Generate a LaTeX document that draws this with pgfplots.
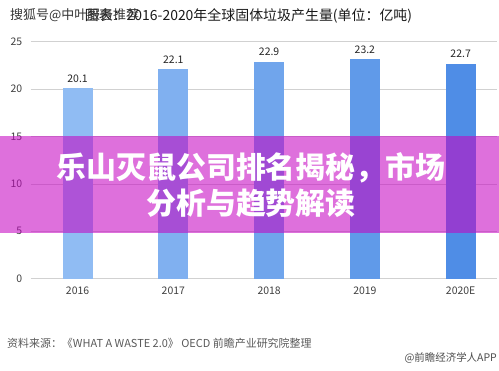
\documentclass[border=0pt]{standalone}
\usepackage{pgfplots}
\pgfplotsset{compat=1.18}
\usepackage{fontspec}
\setmainfont{Noto Sans CJK SC}
\definecolor{bA}{HTML}{90BCF3}
\definecolor{bB}{HTML}{80B0F0}
\definecolor{bC}{HTML}{70A5EC}
\definecolor{bD}{HTML}{609AE9}
\definecolor{bE}{HTML}{4F8DE6}
\definecolor{pinkband}{RGB}{197,4,194}
\begin{document}
\begin{tikzpicture}[x=1bp,y=1bp]
\useasboundingbox (0,0) rectangle (499,-370);
\begin{axis}[
  at={(32,-294)}, anchor=south west,
  scale only axis, width=466bp, height=237bp,
  xmin=-0.49, xmax=4.376, ymin=0, ymax=25,
  ytick={0,5,10,15,20,25},
  xtick={0,1,2,3,4},
  xticklabels={2016,2017,2018,2019,2020E},
  ymajorgrids, grid style={draw=black!18, line width=0.7pt},
  axis line style={draw=none}, tick style={draw=none},
  /pgf/number format/assume math mode=true,
  yticklabel style={font=\fontsize{10.5}{12}\selectfont, text=black!75, xshift=-5bp},
  xticklabel style={font=\fontsize{10.5}{12}\selectfont, text=black!75, yshift=-5bp},
  bar width=30bp,
  nodes near coords,
  every node near coord/.append style={font=\fontsize{10.5}{12}\selectfont, text=black!85, yshift=2bp},
  clip=false,
]
\addplot[ybar, bar shift=0pt, fill=bA, draw=none] coordinates {(0,20.1)};
\addplot[ybar, bar shift=0pt, fill=bB, draw=none] coordinates {(1,22.1)};
\addplot[ybar, bar shift=0pt, fill=bC, draw=none] coordinates {(2,22.9)};
\addplot[ybar, bar shift=0pt, fill=bD, draw=none] coordinates {(3,23.2)};
\addplot[ybar, bar shift=0pt, fill=bE, draw=none] coordinates {(4,22.7)};
\end{axis}
\node[font=\fontsize{14}{16}\selectfont, text=black!90] at (248.5,-16) {图表：2016-2020年全球固体垃圾产生量(单位：亿吨)};
\node[anchor=west, font=\fontsize{13}{15}\selectfont, text=black!80, inner sep=0pt] at (10,-15) {搜狐号@中叶服务推荐};
\node[anchor=west, font=\fontsize{11}{13}\selectfont, text=black!65, inner sep=0pt] at (7,-343) {资料来源：《WHAT A WASTE 2.0》 OECD 前瞻产业研究院整理};
\node[anchor=east, font=\fontsize{10.5}{12}\selectfont, text=black!70, inner sep=0pt] at (497,-358) {@前瞻经济学人APP};
\fill[pinkband, opacity=0.57] (0,-136) rectangle (499,-233);
\node[text=white, font=\fontsize{30}{36}\selectfont\bfseries, align=center] at (251,-185) {乐山灭鼠公司排名揭秘，市场\\分析与趋势解读};
\end{tikzpicture}
\end{document}
